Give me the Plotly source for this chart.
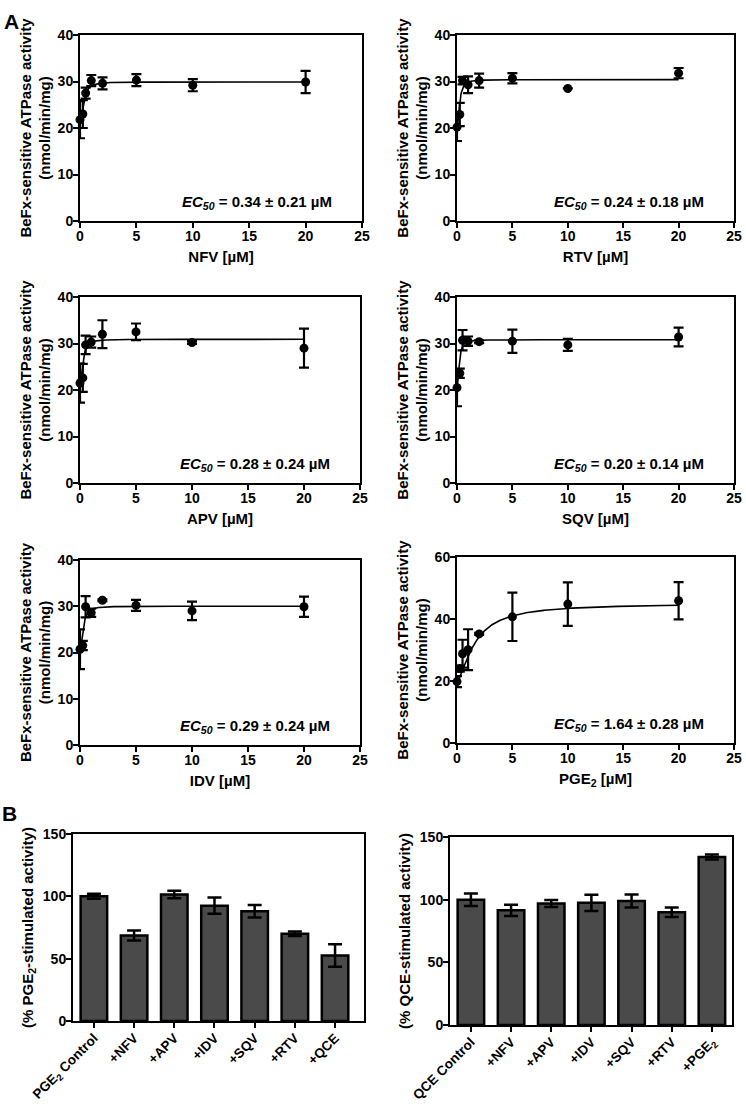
import numpy as np
import plotly.graph_objects as go

W, H = 746, 1104

# ---------------- Data (panel A) ----------------
conc = [0, 0.25, 0.5, 1, 2, 5, 10, 20]

drug_names = ["NFV", "RTV", "APV", "SQV", "IDV", "PGE<sub>2</sub>"]

nfv_y = [21.8, 23.0, 27.5, 30.2, 29.6, 30.3, 29.2, 29.9]
nfv_err = [4.0, 3.0, 1.2, 1.2, 1.3, 1.3, 1.3, 2.4]

rtv_y = [20.2, 22.9, 30.2, 29.3, 30.2, 30.7, 28.5, 31.8]
rtv_err = [3.0, 2.5, 0.8, 1.8, 1.5, 1.1, 0.0, 1.1]

apv_y = [21.5, 22.6, 29.7, 30.3, 32.0, 32.5, 30.2, 29.0]
apv_err = [4.2, 3.0, 2.0, 1.2, 3.0, 1.8, 0.3, 4.2]

sqv_y = [20.5, 23.6, 30.7, 30.5, 30.4, 30.5, 29.7, 31.4]
sqv_err = [4.0, 1.0, 2.2, 1.0, 0.3, 2.5, 1.3, 2.0]

idv_y = [20.7, 21.5, 29.9, 28.6, 31.3, 30.2, 29.0, 29.9]
idv_err = [4.3, 1.0, 2.3, 0.9, 0.2, 1.2, 2.0, 2.2]

pge_y = [19.8, 24.0, 28.8, 30.1, 35.2, 40.7, 44.8, 45.9]
pge_err = [1.8, 1.0, 4.5, 6.6, 0.3, 7.8, 7.0, 6.0]

# fit parameters: bottom, top, EC50, hill
fit_bottom = [21.5, 20.2, 21.4, 20.4, 20.6, 19.8]
fit_top = [29.9, 30.4, 30.9, 30.8, 30.0, 45.0]
fit_ec50 = [0.34, 0.24, 0.28, 0.20, 0.29, 1.64]
fit_hill = [2.0, 2.0, 2.0, 2.0, 2.0, 1.5]
ec50_text = ["0.34 ± 0.21", "0.24 ± 0.18", "0.28 ± 0.24",
             "0.20 ± 0.14", "0.29 ± 0.24", "1.64 ± 0.28"]
y_max = [40, 40, 40, 40, 40, 60]

# ---------------- Data (panel B) ----------------
left_cats = ["PGE<sub>2</sub> Control", "+NFV", "+APV", "+IDV", "+SQV", "+RTV", "+QCE"]
left_vals = [100, 68.5, 101.5, 92.5, 88, 70, 52.5]
left_err = [2.0, 4.0, 3.0, 6.5, 5.0, 1.8, 9.0]

right_cats = ["QCE Control", "+NFV", "+APV", "+IDV", "+SQV", "+RTV", "+PGE<sub>2</sub>"]
right_vals = [100, 91.5, 97, 97.5, 99, 90, 134]
right_err = [5.0, 4.5, 2.8, 6.5, 5.2, 3.8, 2.0]

series_y = [nfv_y, rtv_y, apv_y, sqv_y, idv_y, pge_y]
series_err = [nfv_err, rtv_err, apv_err, sqv_err, idv_err, pge_err]

# ---------------- Layout geometry (pixels) ----------------
boxes = [
    (80, 362, 35, 221), (457, 734, 35, 221),
    (80, 360, 297, 483), (457, 734, 297, 483),
    (80, 360, 560, 745), (457, 734, 557, 743),
]
bar_boxes = [(73, 364, 834, 1021), (450, 732, 837, 1025)]

FONT = "Arial, 'Liberation Sans', sans-serif"

def dom_x(l, r):
    return [l / W, r / W]

def dom_y(t, b):
    return [1 - b / H, 1 - t / H]

fig = go.Figure()
layout = dict(
    width=W, height=H,
    margin=dict(l=0, r=0, t=0, b=0, autoexpand=False),
    paper_bgcolor="white", plot_bgcolor="white",
    showlegend=False,
    font=dict(family=FONT, color="black", size=14, weight="bold"),
)

def axis_common():
    return dict(
        showgrid=False, zeroline=False, showline=True, linecolor="black",
        linewidth=2, mirror=True, ticks="outside", ticklen=5, tickwidth=2,
        tickcolor="black", automargin=False,
        tickfont=dict(family=FONT, size=14, color="black", weight="bold"),
    )

annotations = []
xs_fit = np.linspace(0.001, 20, 400)

for i, (l, r, t, b) in enumerate(boxes):
    n = i + 1
    xa = "x" if n == 1 else f"x{n}"
    ya = "y" if n == 1 else f"y{n}"
    xkey = "xaxis" if n == 1 else f"xaxis{n}"
    ykey = "yaxis" if n == 1 else f"yaxis{n}"
    ax = axis_common()
    ax.update(domain=dom_x(l, r), anchor=ya, range=[0, 25], tickvals=[0, 5, 10, 15, 20, 25],
              ticklabelstandoff=-4,
              title=dict(text=f"{drug_names[i]} [µM]",
                         font=dict(family=FONT, size=15, weight="bold"), standoff=9))
    ay = axis_common()
    step = 10 if y_max[i] == 40 else 20
    ay.update(domain=dom_y(t, b), anchor=xa, range=[0, y_max[i]],
              tickvals=list(range(0, y_max[i] + 1, step)), ticklabelstandoff=-3,
              title=dict(text="BeFx-sensitive ATPase activity<br>(nmol/min/mg)",
                         font=dict(family=FONT, size=15, weight="bold"), standoff=3))
    layout[xkey] = ax
    layout[ykey] = ay

    yfit = fit_bottom[i] + (fit_top[i] - fit_bottom[i]) / (1 + (fit_ec50[i] / xs_fit) ** fit_hill[i])
    fig.add_trace(go.Scatter(x=xs_fit, y=yfit, mode="lines", xaxis=xa, yaxis=ya,
                             line=dict(color="black", width=1.6), cliponaxis=False))
    fig.add_trace(go.Scatter(
        x=conc, y=series_y[i], mode="markers", xaxis=xa, yaxis=ya,
        marker=dict(color="black", size=9),
        error_y=dict(type="data", array=series_err[i], color="black", thickness=2.2, width=5),
        cliponaxis=False))

    annotations.append(dict(
        xref="paper", yref="paper", x=(r - 28) / W, y=1 - (b - 19) / H,
        xanchor="right", yanchor="middle", showarrow=False,
        text=f"<i>EC<sub>50</sub></i> = {ec50_text[i]} µM",
        font=dict(family=FONT, size=15, color="black", weight="bold")))

bar_titles = ["(% PGE<sub>2</sub>-stimulated activity)", "(% QCE-stimulated activity)"]
bar_cats = [left_cats, right_cats]
bar_vals = [left_vals, right_vals]
bar_errs = [left_err, right_err]
bar_ranges = [[-0.52, 6.72], [-0.52, 6.5]]

for j, (l, r, t, b) in enumerate(bar_boxes):
    n = 7 + j
    xa, ya = f"x{n}", f"y{n}"
    ax = axis_common()
    ax.update(domain=dom_x(l, r), anchor=ya, type="category", range=bar_ranges[j],
              tickangle=-45, ticklabelstandoff=-3,
              tickfont=dict(family=FONT, size=13.5, color="black", weight="bold"))
    ay = axis_common()
    ay.update(domain=dom_y(t, b), anchor=xa, range=[0, 150], tickvals=[0, 50, 100, 150],
              ticklabelstandoff=-3,
              title=dict(text=bar_titles[j], font=dict(family=FONT, size=15, weight="bold"),
                         standoff=6))
    layout[f"xaxis{n}"] = ax
    layout[f"yaxis{n}"] = ay
    fig.add_trace(go.Bar(
        x=bar_cats[j], y=bar_vals[j], xaxis=xa, yaxis=ya, width=0.66,
        marker=dict(color="#4a4a4a", line=dict(color="black", width=2.5)),
        error_y=dict(type="data", array=bar_errs[j], color="black", thickness=2.5, width=7)))

annotations.append(dict(xref="paper", yref="paper", x=2 / W, y=1 - 8 / H, xanchor="left",
                        yanchor="top", showarrow=False, text="A",
                        font=dict(family=FONT, size=21, color="black", weight="bold")))
annotations.append(dict(xref="paper", yref="paper", x=0 / W, y=1 - 800 / H, xanchor="left",
                        yanchor="top", showarrow=False, text="B",
                        font=dict(family=FONT, size=21, color="black", weight="bold")))

layout["annotations"] = annotations
fig.update_layout(**layout)
fig.write_html("out.html", config={"displayModeBar": False},
               post_script="document.body.style.margin='0';document.body.style.padding='0';")
